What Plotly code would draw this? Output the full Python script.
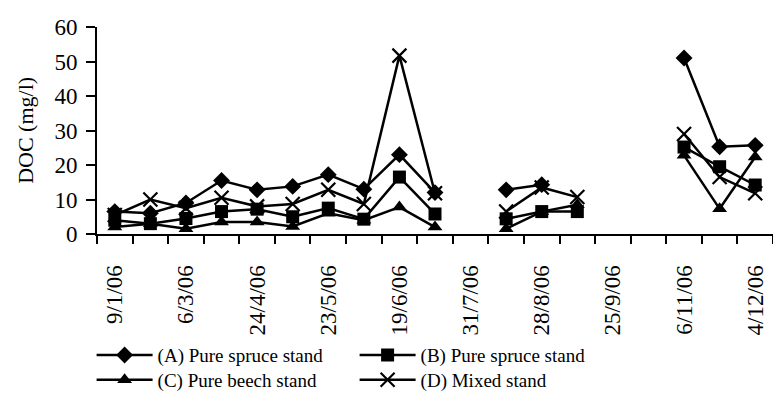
import plotly.graph_objects as go

# Category index 0..18 (sampling occasions); labels shown on every other category
tick_labels = ["9/1/06", "6/3/06", "24/4/06", "23/5/06", "19/6/06",
               "31/7/06", "28/8/06", "25/9/06", "6/11/06", "4/12/06"]
n_categories = 19

series_names = ["(A) Pure spruce stand", "(B) Pure spruce stand",
                "(C) Pure beech stand", "(D) Mixed stand"]

doc_a = [6.5, 6, 9, 15.5, 12.8, 13.8, 17.2, 13, 23, 12, None,
         12.8, 14.3, None, None, None, 51, 25.3, 25.7]
doc_b = [4, 3, 4.5, 6.5, 7.2, 5, 7.5, 4.3, 16.5, 5.8, None,
         4.4, 6.5, 6.5, None, None, 25.2, 19.5, 14.2]
doc_c = [2, 3, 1.5, 3.5, 3.5, 2.2, 6, 4, 7.8, 2, None,
         1.5, 6.5, 8.5, None, None, 22.8, 7.3, 22.3]
doc_d = [5.5, 10, 7.5, 10.5, 8, 8.7, 12.8, 8.7, 51.7, 11.8, None,
         6.5, 13.5, 10.7, None, None, 29, 16.5, 11.8]

x = list(range(n_categories))
FONT = "Liberation Serif, Times New Roman, serif"

styles = [
    dict(symbol="diamond", size=13),
    dict(symbol="square", size=13),
    dict(symbol="triangle-up", size=13),
    dict(symbol="x-thin", size=14, line=dict(width=2.2, color="black")),
]
legend_rows = ["legend", "legend", "legend2", "legend2"]

fig = go.Figure()
for name, ys, st, lg in zip(series_names, [doc_a, doc_b, doc_c, doc_d],
                            styles, legend_rows):
    fig.add_trace(go.Scatter(
        x=x, y=ys, name=name, mode="lines+markers",
        line=dict(color="black", width=2.5),
        marker=dict(color="black", **st),
        connectgaps=False, legend=lg,
    ))

legend_common = dict(
    orientation="h", xref="container", x=0.1185, xanchor="left",
    yref="container", yanchor="top",
    entrywidth=192, entrywidthmode="pixels", itemwidth=56,
    font=dict(family=FONT, size=19), tracegroupgap=0,
    bgcolor="rgba(0,0,0,0)",
)

fig.update_layout(
    width=773, height=394,
    margin=dict(l=97, r=0, t=27, b=160, autoexpand=False),
    paper_bgcolor="white", plot_bgcolor="white",
    font=dict(family=FONT, size=19, color="black"),
    showlegend=True,
    legend=dict(y=0.147, **legend_common),
    legend2=dict(y=0.0838, **legend_common),
    annotations=[dict(
        text="DOC (mg/l)", textangle=-90, showarrow=False,
        xref="paper", yref="paper", x=-0.106, y=0.5,
        xanchor="center", yanchor="middle",
        font=dict(family=FONT, size=22),
    )],
)

fig.update_xaxes(
    automargin=False,
    range=[-0.5, n_categories - 0.5],
    tickmode="array",
    tickvals=list(range(0, n_categories, 2)),
    ticktext=tick_labels,
    tickangle=-90,
    ticks="outside", ticklen=8, tickcolor="rgba(0,0,0,0)",
    ticklabelstandoff=12,
    showline=True, linecolor="black", linewidth=2,
    showgrid=False, zeroline=False,
    tickfont=dict(family=FONT, size=23),
    minor=dict(tickmode="array",
               tickvals=[i - 0.5 for i in range(n_categories + 1)],
               ticks="outside", ticklen=8, tickwidth=2, tickcolor="black",
               showgrid=False),
)
fig.update_yaxes(
    automargin=False,
    range=[0, 60], tickmode="linear", tick0=0, dtick=10,
    ticks="outside", ticklen=9, tickwidth=2, tickcolor="black",
    ticklabelstandoff=4,
    showline=True, linecolor="black", linewidth=2,
    showgrid=False, zeroline=False,
    tickfont=dict(family=FONT, size=23),
)

fig.write_html("out.html")
